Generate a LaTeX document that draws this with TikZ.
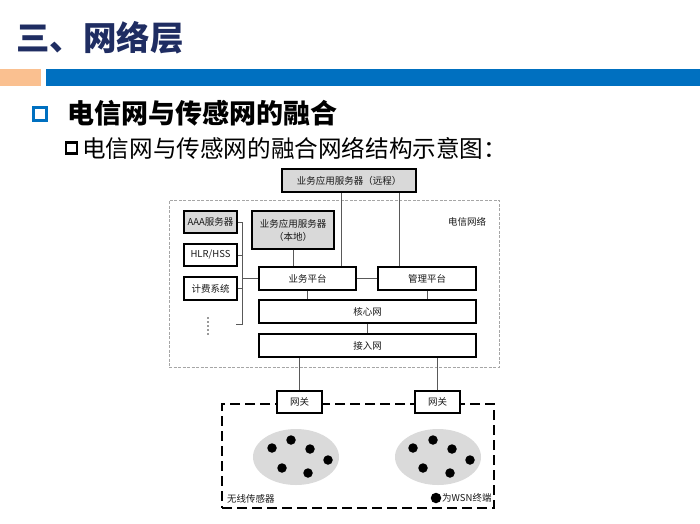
\documentclass[tikz,border=0pt]{standalone}
\usepackage{fontspec}
\setmainfont{Noto Sans CJK SC}
\usetikzlibrary{shapes.geometric, positioning}

\definecolor{titleblue}{HTML}{1F2D62}
\definecolor{barblue}{HTML}{0070C0}
\definecolor{barorange}{HTML}{FAC090}
\definecolor{boxgray}{HTML}{D9D9D9}
\definecolor{cloudgray}{HTML}{DADADA}

\begin{document}
\begin{tikzpicture}[x=1pt, y=-1pt, inner sep=0pt,
	box/.style={draw=black, line width=1.3pt, fill=white, text=black!90, font=\fontsize{9.5}{13}\selectfont, align=center},
	graybox/.style={box, fill=boxgray},
	link/.style={draw=black!65, line width=0.8pt},
	cloud/.style={ellipse, fill=cloudgray, minimum width=86pt, minimum height=56pt},
	sdot/.style={circle, fill=black, minimum size=9.5pt},
	label/.style={text=black!90, font=\fontsize{9.5}{11}\selectfont}]

	\useasboundingbox (0,0) rectangle (700,523);

	% heading
	\node[anchor=west, text=titleblue, font=\fontsize{33.5}{38}\selectfont\bfseries]	(title)	at	(16,38)	{三、网络层};
	\fill[barorange]	(0,69)	rectangle	(41,86);
	\fill[barblue]		(46,69)	rectangle	(700,86);
	\node[draw=barblue, line width=3pt, minimum size=13pt]	(bullet)	at	(39.5,114)	{};
	\node[anchor=west, font=\fontsize{27}{31}\selectfont\bfseries]	(head)	at	(67,113)	{电信网与传感网的融合};
	\node[draw=black, line width=2.5pt, minimum size=11pt]	(subbullet)	at	(71.5,148)	{};
	\node[anchor=west, font=\fontsize{23.6}{27}\selectfont]	(subhead)	at	(82,148)	{电信网与传感网的融合网络结构示意图：};

	% telecom network
	\node[draw=black!35, dash pattern=on 3pt off 1.5pt, line width=0.8pt, minimum width=330pt, minimum height=167pt]	(tele)	at	(334,283.5)	{};
	\node[label]	(telelabel)	at	(467,222)	{电信网络};

	\node[graybox, minimum width=134pt, minimum height=23pt]	(remote)	at	(349,180.5)	{业务应用服务器（远程）};
	\node[graybox, minimum width=53pt, minimum height=22pt]		(aaa)		at	(210.5,222)	{AAA服务器};
	\node[box, minimum width=53pt, minimum height=22pt]			(hlr)		at	(210.5,255)	{HLR/HSS};
	\node[box, minimum width=53pt, minimum height=23pt]			(bill)		at	(210.5,288.5)	{计费系统};
	\node[graybox, minimum width=82pt, minimum height=38pt]		(local)		at	(293,230)	{业务应用服务器\\（本地）};
	\node[box, minimum width=97pt, minimum height=23pt]			(sp)		at	(307.5,278.5)	{业务平台};
	\node[box, minimum width=98pt, minimum height=23pt]			(mp)		at	(427,278.5)	{管理平台};
	\node[box, minimum width=217pt, minimum height=23pt]		(core)		at	(367.5,311.5)	{核心网};
	\node[box, minimum width=217pt, minimum height=23pt]		(access)	at	(367.5,345.5)	{接入网};

	% more servers
	\foreach \y in {318,322,326,330,334}
		\fill[black!80]	(208,\y)	circle	(0.8);

	\coordinate	(brktop)	at	(242,222);
	\coordinate	(brkmid)	at	(242,278.5);
	\coordinate	(brkbot)	at	(242,324);
	\coordinate	(brkend)	at	(236,324);

	\path[link]	(aaa.east)	--	(brktop)	--	(brkbot)	--	(brkend)
			(hlr.east)	--	(hlr.east -| brktop)
			(bill.east)	--	(bill.east -| brktop)
			(brkmid)	--	(sp.west)
			(local.south)	--	(local.south |- sp.north)
			(sp.north -| 341,0)	--	(remote.south -| 341,0)
			(mp.north -| 399,0)	--	(remote.south -| 399,0)
			(sp.east)	--	(mp.west)
			(sp.south)	--	(sp.south |- core.north)
			(mp.south)	--	(mp.south |- core.north)
			(core.south)	--	(access.north);

	% sensor network
	\node[draw=black, dash pattern=on 10pt off 5pt, line width=1.4pt, minimum width=272pt, minimum height=104pt]	(wsn)	at	(358,456)	{};
	\node[box, minimum width=45pt, minimum height=22pt]	(gw1)	at	(299.5,402)	{网关};
	\node[box, minimum width=45pt, minimum height=22pt]	(gw2)	at	(437.5,402)	{网关};
	\path[link]	(gw1.north)	--	(gw1.north |- access.south)
			(gw2.north)	--	(gw2.north |- access.south);

	\node[cloud]	(cloud1)	at	(296,457)	{};
	\node[cloud]	(cloud2)	at	(438,457)	{};
	\foreach \x/\y [count=\i] in {272/448, 291/440, 310/449, 328/460, 282/468, 308/473,
			413/448, 433/440, 452/449, 470/460, 423/468, 450/473}
		\node[sdot]	(s\i)	at	(\x,\y)	{};

	\node[label, anchor=west]	(wsnlabel)	at	(227,499)	{无线传感器};
	\node[sdot, minimum size=10.5pt]	(legdot)	at	(436,498)	{};
	\node[label, anchor=west]	(leglabel)	at	(442,498)	{为WSN终端};

\end{tikzpicture}
\end{document}
